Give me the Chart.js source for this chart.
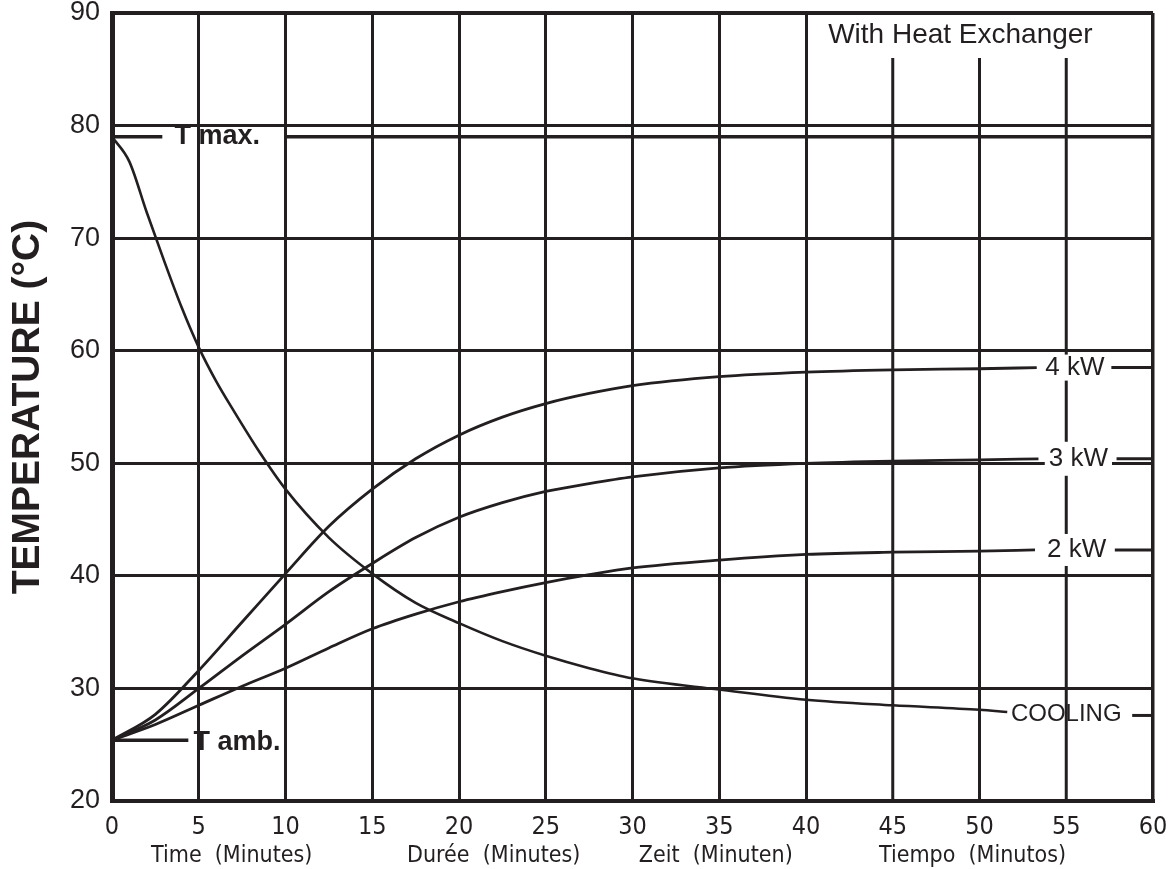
<!DOCTYPE html>
<html>
<head>
<meta charset="utf-8">
<title>Temperature vs time - With Heat Exchanger</title>
<script src="https://cdn.jsdelivr.net/npm/chart.js@4.4.1/dist/chart.umd.min.js"></script>
<style>
  html, body { margin: 0; padding: 0; background: #fff; }
  #wrap { width: 1175px; height: 869px; }
</style>
</head>
<body>
<div id="wrap"><canvas id="chart" width="1175" height="869"></canvas></div>
<script>
// axis ticks
const minuteTicks = [0, 5, 10, 15, 20, 25, 30, 35, 40, 45, 50, 55, 60];
const tempTicks = [20, 30, 40, 50, 60, 70, 80, 90];

// curves (minutes / °C)
const coolingTime = [0, 1, 2, 3, 4, 5, 6, 7, 8.5, 10, 12.5, 15, 17.5, 20, 22.5, 25, 27.5, 30, 35, 40, 45, 50, 51.6];
const coolingTemp = [79, 76.8, 72.3, 68, 63.9, 60.3, 57.3, 54.7, 51, 47.7, 43.4, 40.2, 37.6, 35.8, 34.2, 32.9, 31.8, 30.9, 29.9, 29, 28.5, 28.1, 27.9];
const kw4Time = [0, 2.5, 5, 7.5, 10, 12.5, 15, 17.5, 20, 22.5, 25, 27.5, 30, 35, 40, 45, 50, 53.3];
const kw4Temp = [25.4, 27.7, 31.6, 35.9, 40.2, 44.4, 47.7, 50.4, 52.5, 54.1, 55.3, 56.2, 56.9, 57.7, 58.1, 58.3, 58.4, 58.5];
const kw3Time = [0, 2.5, 5, 7.5, 10, 12.5, 15, 17.5, 20, 22.5, 25, 27.5, 30, 35, 40, 45, 50, 53.4];
const kw3Temp = [25.4, 27.2, 30, 32.9, 35.7, 38.6, 41.1, 43.4, 45.2, 46.5, 47.5, 48.2, 48.8, 49.6, 50, 50.2, 50.3, 50.4];
const kw2Time = [0, 2.5, 5, 7.5, 10, 12.5, 15, 17.5, 20, 22.5, 25, 27.5, 30, 35, 40, 45, 50, 53.2];
const kw2Temp = [25.4, 26.8, 28.5, 30.2, 31.8, 33.6, 35.3, 36.6, 37.7, 38.6, 39.4, 40.1, 40.7, 41.4, 41.9, 42.1, 42.2, 42.3];

// short pieces after the curve labels
const kw4TailTime = [57.6, 60];
const kw4TailTemp = [58.5, 58.5];
const kw3TailTime = [57.9, 60];
const kw3TailTemp = [50.4, 50.4];
const kw2TailTime = [57.8, 60];
const kw2TailTemp = [42.3, 42.3];
const coolingTailTime = [58.8, 60];
const coolingTailTemp = [27.6, 27.6];

// T max / T amb reference lines
const tMaxTimeA = [0, 2.9];
const tMaxTimeB = [10, 60];
const tMaxTemp = 79;
const tAmbTime = [0, 4.4];
const tAmbTemp = 25.4;

// vertical grid lines that stop under the title
const shortGridMinutes = [45, 50, 55];
const shortGridTemp = [20, 86];

const xSubLabels = ['Time  (Minutes)', 'Durée  (Minutes)', 'Zeit  (Minuten)', 'Tiempo  (Minutos)'];

const INK = '#231f20';
const SANS = '"Liberation Sans", Arial, Helvetica, sans-serif';
const NARROW = '"DejaVu Sans Condensed", "Liberation Sans Narrow", "Liberation Sans", sans-serif';

function pts(xs, ys) {
  return xs.map((x, i) => ({ x, y: Array.isArray(ys) ? ys[i] : ys }));
}

function curve(xs, ys, width) {
  return {
    data: pts(xs, ys),
    borderColor: INK,
    borderWidth: width || 3,
    pointRadius: 0,
    fill: false,
    cubicInterpolationMode: 'monotone',
  };
}

const datasets = [];
shortGridMinutes.forEach((m) => {
  datasets.push(curve([m, m], shortGridTemp, 3));
});
datasets.push(curve(tMaxTimeA, tMaxTemp, 3.5));
datasets.push(curve(tMaxTimeB, tMaxTemp, 3.5));
datasets.push(curve(tAmbTime, tAmbTemp, 3.5));
datasets.push(curve(coolingTime, coolingTemp, 2.6));
datasets.push(curve(kw4Time, kw4Temp, 2.8));
datasets.push(curve(kw3Time, kw3Temp, 2.8));
datasets.push(curve(kw2Time, kw2Temp, 2.8));
datasets.push(curve(kw4TailTime, kw4TailTemp, 3));
datasets.push(curve(kw3TailTime, kw3TailTemp, 3));
datasets.push(curve(kw2TailTime, kw2TailTemp, 3));
datasets.push(curve(coolingTailTime, coolingTailTemp, 3));

// text placed in data coordinates
const notes = [
  { text: 'With Heat Exchanger', x: 48.9, y: 88.0, font: '28px ' + SANS, align: 'center' },
  { text: 'T max.', x: 3.6, y: 79, font: 'bold 27px ' + SANS, align: 'left' },
  { text: 'T amb.', x: 4.7, y: 25.2, font: 'bold 27px ' + SANS, align: 'left' },
  { text: '4 kW', x: 55.5, y: 58.5, font: '26px ' + SANS, align: 'center', gap: 26 },
  { text: '3 kW', x: 55.7, y: 50.4, font: '26px ' + SANS, align: 'center', gap: 34 },
  { text: '2 kW', x: 55.6, y: 42.3, font: '26px ' + SANS, align: 'center', gap: 32 },
  { text: 'COOLING', x: 55.0, y: 27.7, font: '24px ' + SANS, align: 'center' },
];
const subLabelMinutes = [6.9, 22.0, 34.8, 49.6];

const notesPlugin = {
  id: 'notes',
  afterDatasetsDraw(chart) {
    const { ctx, scales: { x, y }, chartArea } = chart;
    ctx.save();
    ctx.textBaseline = 'middle';
    notes.forEach((n) => {
      const px = x.getPixelForValue(n.x);
      const py = y.getPixelForValue(n.y);
      ctx.font = n.font;
      ctx.textAlign = n.align;
      if (n.gap) {
        const w = ctx.measureText(n.text).width + 8;
        ctx.fillStyle = '#fff';
        ctx.fillRect(px - w / 2, py - n.gap / 2, w, n.gap);
      }
      ctx.fillStyle = INK;
      ctx.fillText(n.text, px, py);
    });
    ctx.font = '23px ' + NARROW;
    ctx.textAlign = 'center';
    xSubLabels.forEach((t, i) => {
      ctx.fillText(t, x.getPixelForValue(subLabelMinutes[i]), chartArea.bottom + 55);
    });
    ctx.restore();
  },
};

new Chart(document.getElementById('chart'), {
  type: 'line',
  data: { datasets },
  options: {
    responsive: false,
    animation: false,
    events: [],
    layout: { padding: { top: 13, right: 22, left: 0, bottom: 0 } },
    plugins: { legend: { display: false }, tooltip: { enabled: false } },
    scales: {
      x: {
        type: 'linear',
        min: 0,
        max: 60,
        afterBuildTicks: (s) => { s.ticks = minuteTicks.map((v) => ({ value: v })); },
        afterFit: (s) => { s.height = 68; s.paddingLeft = 0; s.paddingRight = 0; },
        grid: {
          drawTicks: false,
          color: (c) => (shortGridMinutes.includes(c.tick && c.tick.value) ? 'rgba(0,0,0,0)' : INK),
          lineWidth: (c) => (c.tick && c.tick.value === 60 ? 3.5 : 3),
        },
        border: { color: INK, width: 4 },
        ticks: {
          color: INK,
          padding: 11,
          maxRotation: 0,
          autoSkip: false,
          font: { family: NARROW, size: 25 },
        },
      },
      y: {
        type: 'linear',
        min: 20,
        max: 90,
        afterBuildTicks: (s) => { s.ticks = tempTicks.map((v) => ({ value: v })); },
        afterFit: (s) => { s.width = 112; s.paddingTop = 0; s.paddingBottom = 0; },
        grid: {
          drawTicks: false,
          color: INK,
          lineWidth: (c) => (c.tick && c.tick.value === 90 ? 4 : 3),
        },
        border: { color: INK, width: 5 },
        ticks: {
          color: INK,
          padding: 12,
          font: { family: SANS, size: 27 },
        },
        title: {
          display: true,
          text: 'TEMPERATURE (°C)',
          color: INK,
          padding: { top: 5, bottom: 0 },
          font: { family: SANS, size: 39, weight: 'bold' },
        },
      },
    },
  },
  plugins: [notesPlugin],
});
</script>
</body>
</html>
